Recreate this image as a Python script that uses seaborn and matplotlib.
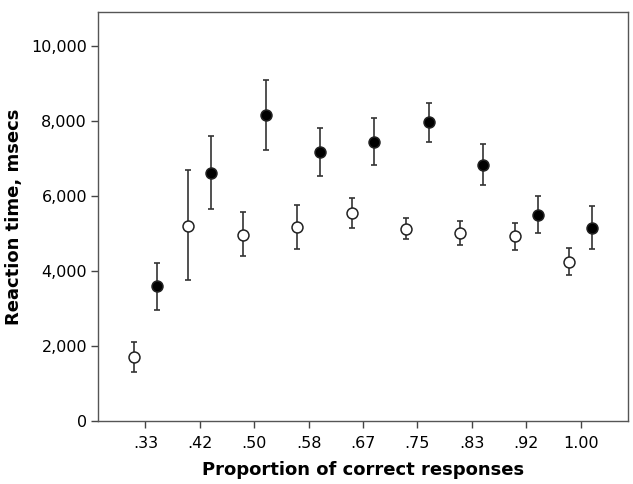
import numpy as np
import pandas as pd
import matplotlib
matplotlib.use('Agg')
import matplotlib.pyplot as plt
import seaborn as sns
from matplotlib.ticker import FuncFormatter

# x軸カテゴリ
categories = ['.33', '.42', '.50', '.58', '.67', '.75', '.83', '.92', '1.00']

# 白丸系列（平均・誤差範囲）
open_mean = [1720, 5210, 4960, 5160, 5540, 5130, 5010, 4920, 4245]
open_low = [1320, 3750, 4390, 4590, 5150, 4860, 4700, 4560, 3880]
open_high = [2120, 6680, 5570, 5750, 5940, 5420, 5330, 5280, 4620]

# 黒丸系列
filled_mean = [3590, 6620, 8150, 7180, 7440, 7970, 6820, 5490, 5150]
filled_low = [2950, 5640, 7220, 6540, 6820, 7450, 6290, 5000, 4590]
filled_high = [4220, 7610, 9100, 7820, 8090, 8490, 7380, 5990, 5740]

sns.set_style('white')
plt.rcParams['font.family'] = ['DejaVu Sans']
plt.rcParams['text.color'] = 'black'
plt.rcParams['axes.labelcolor'] = 'black'
plt.rcParams['xtick.color'] = 'black'
plt.rcParams['ytick.color'] = 'black'

fig = plt.figure(figsize=(6.33, 4.84), dpi=100)
ax = fig.add_axes([0.155, 0.130, 0.837, 0.845])

idx = np.arange(len(categories))
offset = 0.21

series = [
    ('open', -offset, open_mean, open_low, open_high, 'white'),
    ('filled', offset, filled_mean, filled_low, filled_high, 'black'),
]

for name, dx, mean, low, high, face in series:
    df = pd.DataFrame({'x': idx + dx, 'y': mean})
    mean_a = np.array(mean)
    yerr = [mean_a - np.array(low), np.array(high) - mean_a]
    ax.errorbar(df['x'], df['y'], yerr=yerr, fmt='none', ecolor='#333333',
                elinewidth=1.2, capsize=2.5, capthick=1.2, zorder=2)
    sns.scatterplot(data=df, x='x', y='y', ax=ax, s=62, color=face,
                    edgecolor='#222222', linewidth=1.1, zorder=3, legend=False)

ax.set_xlim(-0.87, len(categories) - 1 + 0.87)
ax.set_ylim(0, 10900)
ax.set_xticks(idx)
ax.set_xticklabels(categories)
ax.set_yticks(np.arange(0, 10001, 2000))
ax.yaxis.set_major_formatter(FuncFormatter(lambda v, p: f'{int(v):,}'))

ax.tick_params(axis='both', direction='out', length=5, width=1, color='#444444',
               labelsize=11.5, labelcolor='black', bottom=True, left=True, pad=3)
ax.tick_params(axis='x', pad=6)
for sp in ax.spines.values():
    sp.set_color('#555555')
    sp.set_linewidth(1)

ax.set_xlabel('Proportion of correct responses', fontsize=13, fontweight='bold', labelpad=7)
ax.set_ylabel('Reaction time, msecs', fontsize=13, fontweight='bold', labelpad=6)

fig.savefig('out.png', dpi=100)
